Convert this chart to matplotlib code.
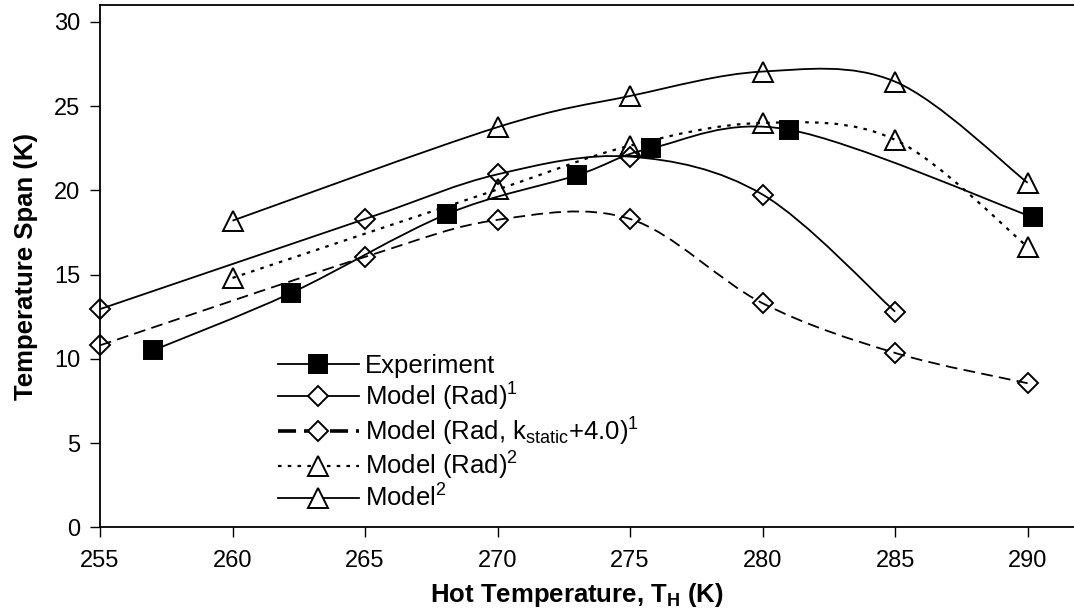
"""Temperature span vs hot temperature: experiment and model curves (Excel-style smoothed lines)."""

import matplotlib
matplotlib.use('Agg')
import matplotlib.pyplot as plt
import numpy as np
from matplotlib.lines import Line2D
from matplotlib.patches import PathPatch
from matplotlib.path import Path

plt.rcParams['font.family'] = ['Liberation Sans', 'DejaVu Sans']
plt.rcParams['mathtext.fontset'] = 'custom'
plt.rcParams['mathtext.rm'] = 'Liberation Sans'
plt.rcParams['mathtext.it'] = 'Liberation Sans:italic'
plt.rcParams['mathtext.bf'] = 'Liberation Sans:bold'

# data
exp_x = [257.0, 262.2, 268.1, 273.0, 275.8, 281.0, 290.2]
exp_y = [10.5, 13.9, 18.6, 20.9, 22.5, 23.6, 18.4]

rad1_x = [255, 265, 270, 275, 280, 285]
rad1_y = [12.95, 18.3, 20.95, 22.0, 19.75, 12.8]

radk_x = [255, 265, 270, 275, 280, 285, 290]
radk_y = [10.8, 16.05, 18.25, 18.3, 13.3, 10.35, 8.55]

rad2_x = [260, 270, 275, 280, 285, 290]
rad2_y = [14.8, 20.05, 22.65, 24.0, 23.0, 16.65]

mod2_x = [260, 270, 275, 280, 285, 290]
mod2_y = [18.2, 23.75, 25.6, 27.05, 26.45, 20.45]

labels = ['Experiment',
          r'Model (Rad)$^{\mathregular{1}}$',
          r'Model (Rad, k$_{\mathregular{static}}$+4.0)$^{\mathregular{1}}$',
          r'Model (Rad)$^{\mathregular{2}}$',
          r'Model$^{\mathregular{2}}$']


def smooth_path(x, y):
    # Bezier path through the points, like Excel's "smoothed line"
    pts = np.column_stack([x, y]).astype(float)
    n = len(pts)
    verts = [pts[0]]
    codes = [Path.MOVETO]
    for i in range(n - 1):
        p0 = pts[i - 1] if i > 0 else pts[i]
        p1, p2 = pts[i], pts[i + 1]
        p3 = pts[i + 2] if i + 2 < n else pts[i + 1]
        verts += [p1 + (p2 - p0) / 6, p2 - (p3 - p1) / 6, p2]
        codes += [Path.CURVE4] * 3
    return Path(verts, codes)


fig = plt.figure(figsize=(10.74, 6.09), dpi=100, facecolor='white')
ax = fig.add_axes([100 / 1074, 1 - 527.3 / 609, 974 / 1074, 522.3 / 609])

lw = 1.3
solid = '-'
dashed = (0, (6.5, 3.5))
dotted = (0, (1.6, 2.8))

# x, y, linestyle, linewidth, marker, size, face
series = [
    (exp_x, exp_y, solid, lw, 's', 13, 'black'),
    (rad1_x, rad1_y, solid, lw, 'D', 10, 'none'),
    (radk_x, radk_y, dashed, lw, 'D', 10, 'none'),
    (rad2_x, rad2_y, dotted, 1.6, '^', 14, 'none'),
    (mod2_x, mod2_y, solid, lw, '^', 14, 'none'),
]

handles = []
for (x, y, ls, w, mk, ms, fc), lab in zip(series, labels):
    ax.add_patch(PathPatch(smooth_path(x, y), fill=False, edgecolor='black',
                           lw=w, linestyle=ls, zorder=2))
    ax.plot(x, y, linestyle='none', marker=mk, ms=ms, mfc=fc, mec='black',
            mew=1.4, zorder=3, clip_on=False)
    if ls == dashed:
        h = Line2D([], [], color='black', lw=2.6, linestyle=(0, (5, 2.2)),
                   marker=mk, ms=ms, mfc='white', mec='black', mew=1.4)
    else:
        h = Line2D([], [], color='black', lw=w, linestyle=ls, marker=mk, ms=ms,
                   mfc=fc if fc != 'none' else 'white', mec='black', mew=1.4)
    handles.append(h)

ax.set_xlim(255, 291.75)
ax.set_ylim(0, 31)
ax.set_xticks(np.arange(255, 291, 5))
ax.set_yticks(np.arange(0, 31, 5))

for side in ['left', 'bottom', 'top']:
    ax.spines[side].set_linewidth(1.3)
ax.spines['right'].set_visible(False)
ax.tick_params(direction='out', length=7, width=1, labelsize=17)
ax.tick_params(axis='x', pad=9)
ax.tick_params(axis='y', pad=7)

ax.set_xlabel(r'Hot Temperature, T$_{\mathbf{H}}$ (K)', fontsize=18.5,
              fontweight='bold')
ax.set_ylabel('Temperature Span (K)', fontsize=18.5, fontweight='bold')
ax.xaxis.set_label_coords(0.49, -0.102)
ax.yaxis.set_label_coords(-0.064, 0.5)

ax.legend(handles, labels, loc='upper left', bbox_to_anchor=(278 / 1074, 1 - 354 / 609),
          bbox_transform=fig.transFigure, frameon=False, fontsize=18.5,
          handlelength=3.15, handletextpad=0.25, labelspacing=0.1,
          borderpad=0, borderaxespad=0, numpoints=1)

plt.savefig('out.png', dpi=100, facecolor='white')
plt.close()
